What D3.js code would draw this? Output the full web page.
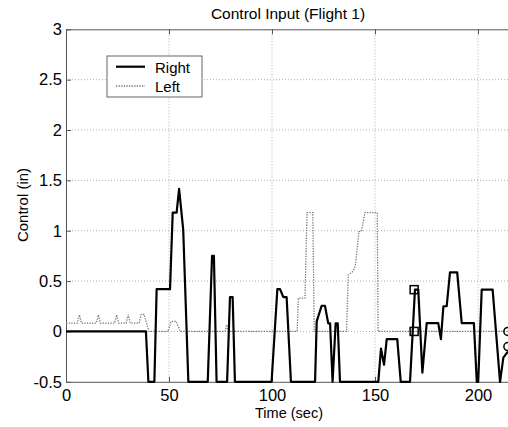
<!DOCTYPE html>
<html>
<head>
<meta charset="utf-8">
<script src="https://cdn.jsdelivr.net/npm/d3@7/dist/d3.min.js"></script>
<style>
  body { margin: 0; background: #fff; }
  svg { display: block; font-family: "Liberation Sans", Arial, sans-serif; }
  .tick text { font-size: 16.5px; fill: #000; }
  .axis path, .axis line { stroke: #555; }
  .grid line { stroke: #b0b0b0; stroke-dasharray: 1,2; }
</style>
</head>
<body>
<svg></svg>
<script>
// time (sec) / control (in) samples
var rightT = [0, 38.8, 40, 42.9, 44, 50.5, 51.8, 53.7, 54.9, 56.9, 59.4, 68.8, 70.9, 71.8, 73.1,
  78.2, 79.6, 80.9, 82, 99.8, 102.6, 103.9, 105.5, 107.1, 109.2, 120.9, 121.7, 124.1, 125.7,
  127.3, 128.2, 129.4, 130.9, 131.9, 133, 151.6, 152.9, 154.4, 155.7, 160.8, 162.5, 167,
  169.4, 171, 173, 175.1, 180.7, 182, 183.2, 184.8, 186.4, 189.9, 192.1, 198, 199.4, 200.1,
  201.8, 207.1, 210.7, 212.3, 214.5];
var rightV = [0, 0, -0.5, -0.5, 0.42, 0.42, 1.18, 1.18, 1.415, 1.01, -0.5, -0.5, 0.75, 0.75, -0.5,
  -0.5, 0.34, 0.34, -0.5, -0.5, 0.42, 0.42, 0.34, 0.34, -0.5, -0.5, 0.1, 0.255, 0.255,
  0.08, 0.08, -0.5, 0.08, 0.08, -0.5, -0.5, -0.17, -0.33, -0.076, -0.076, -0.5, -0.5,
  0.415, 0.415, -0.41, 0.083, 0.083, -0.076, 0.25, 0.25, 0.587, 0.587, 0.083, 0.083, -0.5, -0.5,
  0.415, 0.415, -0.5, -0.26, -0.2];

var leftT = [0, 5.5, 6.5, 7.5, 14.7, 15.7, 16.7, 23.6, 24.6, 25.6, 29.2, 30.2, 31.2, 35.5, 36.5,
  37.8, 40.3, 49.5, 51, 53.5, 55.5, 77.2, 78, 78.8, 112.2, 112.8, 116, 117, 119.8, 120.5,
  136.2, 137, 139.5, 140.5, 142.2, 143.5, 145.1, 151.1, 151.5, 214.5];
var leftV = [0.083, 0.083, 0.165, 0.083, 0.083, 0.165, 0.083, 0.083, 0.165, 0.083, 0.083, 0.165, 0.083, 0.083, 0.17,
  0.17, 0, 0, 0.1, 0.1, 0, 0, 0.067, 0, 0, 0.33, 0.33, 1.18, 1.18, 0,
  0, 0.56, 0.6, 0.66, 0.99, 1.0, 1.18, 1.18, 0, 0];

var squareT = [169, 169];
var squareV = [0.415, 0];
var circleT = [214.5, 214.5];
var circleV = [0, -0.15];

var xTicks = [0, 50, 100, 150, 200];
var yTicks = [-0.5, 0, 0.5, 1, 1.5, 2, 2.5, 3];

var width = 508;
var height = 427;
var svg = d3.select('svg')
              .attr('width', width)
              .attr('height', height);

var padLeft = 66, padTop = 29.3, padBottom = 381.8;

// the axes run past the right edge of the picture, as in the original
var xScale = d3.scaleLinear()
               .domain([0, 220])
               .range([padLeft, padLeft + 220 * 2.06]);
var yScale = d3.scaleLinear()
               .domain([-0.5, 3])
               .range([padBottom, padTop]);

svg.append('defs').append('clipPath')
   .attr('id', 'plot')
   .append('rect')
     .attr('x', padLeft)
     .attr('y', padTop - 6)
     .attr('width', xScale(220) - padLeft)
     .attr('height', padBottom - padTop + 12);

// dotted grid
var grid = svg.append('g').attr('class', 'grid');
grid.selectAll('.gx')
    .data(xTicks.slice(1))
    .enter().append('line')
      .attr('x1', d => xScale(d)).attr('x2', d => xScale(d))
      .attr('y1', padTop).attr('y2', padBottom);
grid.selectAll('.gy')
    .data(yTicks.slice(1, -1))
    .enter().append('line')
      .attr('x1', padLeft).attr('x2', xScale(220))
      .attr('y1', d => yScale(d)).attr('y2', d => yScale(d));

// axes with ticks inside the box
svg.append('g')
   .attr('class', 'axis')
   .attr('transform', `translate(0, ${padBottom})`)
   .call(d3.axisBottom(xScale).tickValues(xTicks).tickSizeInner(-5).tickSizeOuter(0).tickPadding(7.5));
svg.append('g')
   .attr('class', 'axis')
   .attr('transform', `translate(0, ${padTop})`)
   .call(d3.axisTop(xScale).tickValues(xTicks).tickSizeInner(-5).tickSizeOuter(0).tickFormat(''));
svg.append('g')
   .attr('class', 'axis')
   .attr('transform', `translate(${padLeft}, 0)`)
   .call(d3.axisLeft(yScale).tickValues(yTicks).tickFormat(d => String(d))
           .tickSizeInner(-5).tickSizeOuter(0).tickPadding(4));

var line = d3.line()
             .x(d => xScale(d[0]))
             .y(d => yScale(d[1]));

var plot = svg.append('g').attr('clip-path', 'url(#plot)');

plot.append('path')
    .datum(d3.zip(leftT, leftV))
    .attr('d', line)
    .attr('fill', 'none')
    .attr('stroke', '#777')
    .attr('stroke-width', 1.3)
    .attr('stroke-dasharray', '1.3,1.3');

plot.append('path')
    .datum(d3.zip(rightT, rightV))
    .attr('d', line)
    .attr('fill', 'none')
    .attr('stroke', '#000')
    .attr('stroke-width', 2.2)
    .attr('stroke-linejoin', 'round');

plot.selectAll('.sq')
    .data(d3.zip(squareT, squareV))
    .enter().append('rect')
      .attr('x', d => xScale(d[0]) - 4)
      .attr('y', d => yScale(d[1]) - 4)
      .attr('width', 8).attr('height', 8)
      .attr('fill', 'none').attr('stroke', '#000').attr('stroke-width', 1.5);

plot.selectAll('.ci')
    .data(d3.zip(circleT, circleV))
    .enter().append('circle')
      .attr('cx', d => xScale(d[0]))
      .attr('cy', d => yScale(d[1]))
      .attr('r', 4)
      .attr('fill', 'none').attr('stroke', '#000').attr('stroke-width', 1.5);

// legend
var legend = svg.append('g').attr('transform', 'translate(107, 56)');
legend.append('rect')
      .attr('width', 95).attr('height', 41)
      .attr('fill', '#fff').attr('stroke', '#666');
legend.append('line')
      .attr('x1', 9).attr('x2', 38).attr('y1', 10.7).attr('y2', 10.7)
      .attr('stroke', '#000').attr('stroke-width', 2.2);
legend.append('line')
      .attr('x1', 9).attr('x2', 38).attr('y1', 30).attr('y2', 30)
      .attr('stroke', '#777').attr('stroke-width', 1.3).attr('stroke-dasharray', '1.3,1.3');
legend.append('text').attr('x', 48).attr('y', 16.5).attr('font-size', 15).text('Right');
legend.append('text').attr('x', 48).attr('y', 35.5).attr('font-size', 15).text('Left');

svg.append('text')
   .attr('x', 288).attr('y', 18.5)
   .attr('text-anchor', 'middle').attr('font-size', 15.5)
   .text('Control Input (Flight 1)');

svg.append('text')
   .attr('x', 289).attr('y', 417.5)
   .attr('text-anchor', 'middle').attr('font-size', 14.5)
   .text('Time (sec)');

svg.append('text')
   .attr('transform', 'translate(28, 205) rotate(-90)')
   .attr('text-anchor', 'middle').attr('font-size', 15)
   .text('Control (in)');
</script>
</body>
</html>
